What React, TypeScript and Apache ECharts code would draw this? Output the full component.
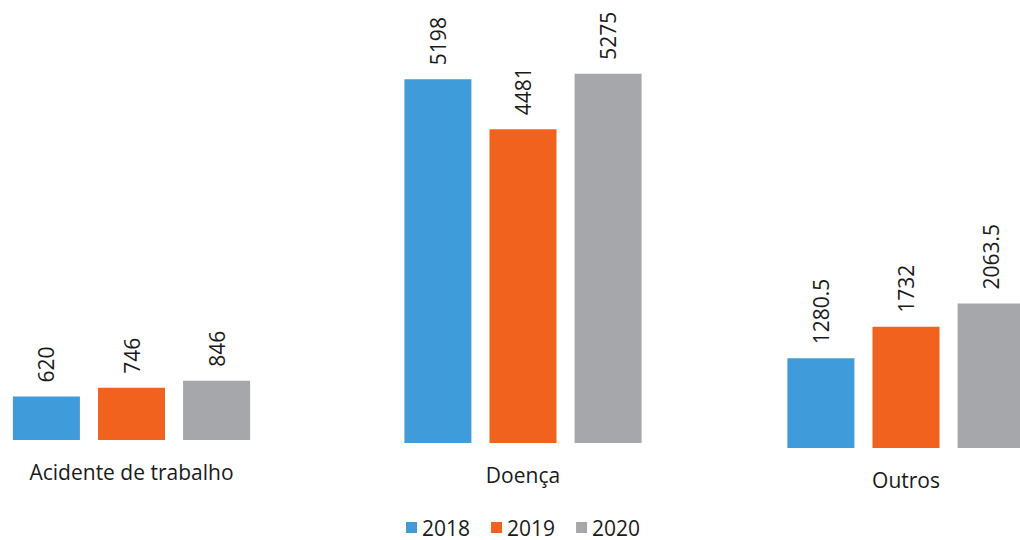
import React, { useEffect, useRef } from "react";
import * as echarts from "echarts";

const categories = ["Acidente de trabalho", "Doença", "Outros"];
const years = ["2018", "2019", "2020"];
const values2018 = [620, 5198, 1280.5];
const values2019 = [746, 4481, 1732];
const values2020 = [846, 5275, 2063.5];

const colors = ["#3f9bd9", "#f2621f", "#a6a7ab"];
// each category drawn in its own grid (the scanned original is slightly skewed)
const centers = [131.5, 523, 906];
const baselines = [440, 443, 448];
const catWidth = 387;
const yMax = 6000;
const pxPerUnit = 0.07;

export default function App() {
  const ref = useRef<HTMLDivElement>(null);
  useEffect(() => {
    if (!ref.current) return;
    const chart = echarts.init(ref.current, undefined, { renderer: "svg" });
    const allValues = [values2018, values2019, values2020];
    const grids = categories.map((_, i) => ({
      left: centers[i] - catWidth / 2,
      width: catWidth,
      top: baselines[i] - yMax * pxPerUnit,
      height: yMax * pxPerUnit,
      containLabel: false,
      outerBoundsMode: "none",
    }));
    const xAxes = categories.map((c, i) => ({
      type: "category",
      gridIndex: i,
      data: [c],
      axisLine: { show: false },
      axisTick: { show: false },
      axisLabel: {
        margin: 21,
        fontSize: 21,
        color: "#1a1a1a",
        fontFamily: "Open Sans",
      },
    }));
    const yAxes = categories.map((_, i) => ({
      type: "value",
      gridIndex: i,
      min: 0,
      max: yMax,
      show: false,
      splitLine: { show: false },
    }));
    const series: any[] = [];
    categories.forEach((_, i) => {
      years.forEach((y, k) => {
        series.push({
          type: "bar",
          name: y,
          xAxisIndex: i,
          yAxisIndex: i,
          data: [allValues[k][i]],
          barWidth: 67,
          barGap: "27%",
          itemStyle: { color: colors[k] },
          label: {
            show: true,
            position: "top",
            rotate: 90,
            align: "left",
            verticalAlign: "middle",
            distance: 14,
            fontSize: 21,
            color: "#1a1a1a",
            fontFamily: "Open Sans",
          },
        });
      });
    });
    chart.setOption({
      animation: false,
      backgroundColor: "#ffffff",
      legend: {
        data: years,
        left: 406,
        top: 517,
        icon: "rect",
        itemWidth: 11,
        itemHeight: 11,
        itemGap: 21,
        padding: 0,
        textStyle: { fontSize: 21, color: "#1a1a1a", fontFamily: "Open Sans" },
      },
      grid: grids,
      xAxis: xAxes,
      yAxis: yAxes,
      series,
    });
    return () => chart.dispose();
  }, []);
  return <div ref={ref} style={{ width: 1020, height: 540, position: "absolute", left: 0, top: 0 }} />;
}
